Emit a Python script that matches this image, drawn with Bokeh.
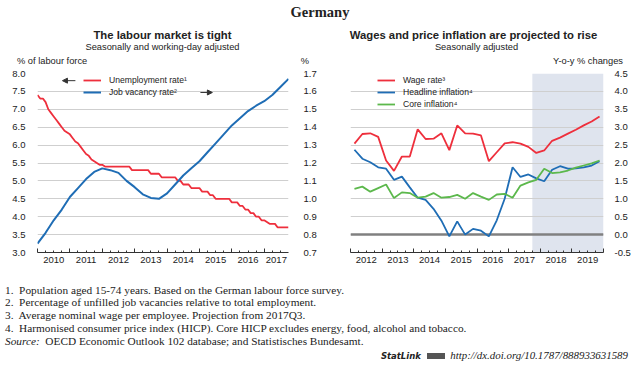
import pandas as pd
from bokeh.plotting import figure
from bokeh.models import (Range1d, LinearAxis, FixedTicker, Legend, LegendItem,
                          BoxAnnotation, Span, Arrow, NormalHead, Div, NumeralTickFormatter,
                          CustomJSTickFormatter)
from bokeh.layouts import column, row
from bokeh.embed import file_html
from bokeh.resources import INLINE

# ---------------- data: left panel ----------------
unemp_months = pd.date_range("2010-01-01", periods=94, freq="MS")
unemployment_rate = [
    7.4, 7.3, 7.3, 7.2, 7.0, 6.9, 6.8, 6.7, 6.6, 6.5, 6.4, 6.35,       # 2010
    6.3, 6.2, 6.1, 6.05, 5.95, 5.85, 5.75, 5.7, 5.6, 5.55, 5.5, 5.45,  # 2011
    5.45, 5.4, 5.4, 5.4, 5.4, 5.4, 5.4, 5.4, 5.4, 5.4, 5.4, 5.3,       # 2012
    5.3, 5.3, 5.3, 5.3, 5.3, 5.3, 5.2, 5.2, 5.2, 5.2, 5.1, 5.1,        # 2013
    5.1, 5.1, 5.1, 5.1, 5.0, 5.0, 4.9, 4.9, 4.9, 4.8, 4.8, 4.8,        # 2014
    4.8, 4.7, 4.7, 4.7, 4.6, 4.6, 4.5, 4.5, 4.5, 4.5, 4.5, 4.5,        # 2015
    4.4, 4.4, 4.4, 4.3, 4.3, 4.2, 4.2, 4.1, 4.1, 4.0, 4.0, 3.9,        # 2016
    3.9, 3.85, 3.8, 3.8, 3.8, 3.7, 3.7, 3.7, 3.7, 3.7,                 # 2017
]
vac_quarters = pd.date_range("2010-01-01", periods=32, freq="QS")
job_vacancy_rate = [
    0.75, 0.81, 0.88, 0.94, 1.01, 1.06, 1.11, 1.15, 1.17, 1.16, 1.145,
    1.10, 1.065, 1.025, 1.005, 1.0, 1.03, 1.08, 1.13, 1.17, 1.21, 1.26,
    1.31, 1.36, 1.41, 1.45, 1.49, 1.52, 1.545, 1.58, 1.625, 1.67,
]
left_years = [2010, 2011, 2012, 2013, 2014, 2015, 2016, 2017]
left_ticks = [3.0, 3.5, 4.0, 4.5, 5.0, 5.5, 6.0, 6.5, 7.0, 7.5, 8.0]
right_ticks_vac = [0.7, 0.8, 0.9, 1.0, 1.1, 1.2, 1.3, 1.4, 1.5, 1.6, 1.7]
left_end = 2017.75

# ---------------- data: right panel ----------------
quarters = pd.period_range("2012Q1", "2019Q4", freq="Q")
wage_rate = [2.54, 2.81, 2.83, 2.73, 2.07, 1.78, 2.18, 2.18, 2.94, 2.67, 2.68,
             2.83, 2.36, 3.05, 2.83, 2.82, 2.77, 2.05, 2.30, 2.55, 2.58, 2.54,
             2.45, 2.28, 2.35, 2.62, 2.71, 2.82, 2.93, 3.05, 3.16, 3.30]
headline_inflation = [2.37, 2.12, 2.02, 1.88, 1.84, 1.53, 1.62, 1.32, 1.03, 0.97,
                      0.72, 0.39, -0.05, 0.37, 0.0, 0.16, 0.11, -0.05, 0.40, 1.0,
                      1.88, 1.61, 1.68, 1.57, 1.49, 1.81, 1.91, 1.84, 1.85, 1.88,
                      1.93, 2.05]
core_inflation = [1.28, 1.34, 1.20, 1.30, 1.40, 1.02, 1.18, 1.16, 1.03, 1.06, 1.16,
                  1.03, 1.05, 1.11, 1.0, 1.16, 1.06, 0.97, 1.12, 1.14, 1.03, 1.37,
                  1.46, 1.53, 1.84, 1.72, 1.74, 1.79, 1.87, 1.93, 1.99, 2.07]
right_years = [2012, 2013, 2014, 2015, 2016, 2017, 2018, 2019]
right_ticks = [-0.5, 0.0, 0.5, 1.0, 1.5, 2.0, 2.5, 3.0, 3.5, 4.0, 4.5]
projection_start = "2017Q4"

RED = "#ee2f3c"
BLUE = "#1f6db5"
GREEN = "#5cb84c"
GRID = "#cfcfcf"
TXT = "#222222"
FONT = "Liberation Sans"

def month_x(d):
    return [t.year + (t.month - 1) / 12 for t in d]

def quarter_mid_x(q):
    return [t.year + (t.quarter - 0.5) / 4 for t in q]

def quarter_start(qs):
    t = pd.Period(qs, freq="Q")
    return t.year + (t.quarter - 1) / 4

def style_axes(p):
    p.outline_line_color = None
    p.xgrid.visible = False
    p.ygrid.grid_line_color = GRID
    p.ygrid.grid_line_width = 1.2
    p.background_fill_color = "white"
    p.border_fill_color = "white"

def style_y(ax):
    ax.axis_line_color = None
    ax.major_tick_line_color = None
    ax.minor_tick_line_color = None
    ax.major_label_text_font = FONT
    ax.major_label_text_font_size = "9.5px"
    ax.major_label_text_color = TXT
    ax.major_label_standoff = 6
    ax.formatter = NumeralTickFormatter(format="0.0")

def add_x_axes(p, years, end):
    bounds = [y for y in years] + [years[-1] + 1]
    bounds = [b for b in bounds if b <= end]
    qticks = [y + q / 4 for y in years for q in range(1, 4) if y + q / 4 < end]
    ax = p.xaxis[0]
    ax.ticker = FixedTicker(ticks=bounds, minor_ticks=qticks)
    ax.formatter = CustomJSTickFormatter(code="return '';")
    ax.major_label_text_font_size = "0px"
    ax.major_label_standoff = 0
    ax.major_tick_in = 4
    ax.major_tick_out = 0
    ax.minor_tick_in = 2
    ax.minor_tick_out = 0
    ax.axis_line_color = "#333333"
    ax.major_tick_line_color = "#333333"
    ax.minor_tick_line_color = "#333333"
    mids = [min(y + 0.5, (y + end) / 2) for y in years]
    lab = LinearAxis(ticker=FixedTicker(ticks=mids, minor_ticks=[]),
                     formatter=CustomJSTickFormatter(code="return String(Math.floor(tick));"))
    lab.axis_line_color = None
    lab.major_tick_line_color = None
    lab.minor_tick_line_color = None
    lab.major_label_standoff = -2
    lab.major_label_text_font = FONT
    lab.major_label_text_font_size = "9.5px"
    lab.major_label_text_color = TXT
    p.add_layout(lab, "below")

# ---------------- left panel ----------------
p1 = figure(width=320, height=201, x_range=Range1d(2010, left_end),
            y_range=Range1d(3.0, 8.0), output_backend="svg", toolbar_location=None,
            min_border_left=37, min_border_right=32, min_border_top=6, min_border_bottom=16,
            title=None)
style_axes(p1)
p1.extra_y_ranges = {"vac": Range1d(0.7, 1.7)}
p1.yaxis[0].ticker = FixedTicker(ticks=left_ticks)
style_y(p1.yaxis[0])
p1.ygrid.ticker = FixedTicker(ticks=left_ticks)
rax = LinearAxis(y_range_name="vac", ticker=FixedTicker(ticks=right_ticks_vac))
style_y(rax)
rax.major_label_standoff = 9
p1.add_layout(rax, "right")
add_x_axes(p1, left_years, left_end)

r_un = p1.line(month_x(unemp_months), unemployment_rate, line_color=RED, line_width=1.8)
r_jv = p1.line(month_x(vac_quarters), job_vacancy_rate,
               line_color=BLUE, line_width=2, y_range_name="vac")

leg1 = Legend(items=[LegendItem(label="Unemployment rate\u00b9", renderers=[r_un]),
                     LegendItem(label="Job vacancy rate\u00b2", renderers=[r_jv])],
              location=(46, 154))
p1.add_layout(leg1)

p1.add_layout(Arrow(x_start=2011.17, y_start=7.80, x_end=2010.77, y_end=7.80,
                    line_color="#333333", line_width=1,
                    end=NormalHead(size=5, fill_color="#333333", line_color="#333333")))
p1.add_layout(Arrow(x_start=2015.03, y_start=7.47, x_end=2015.4, y_end=7.47,
                    line_color="#333333", line_width=1,
                    end=NormalHead(size=5, fill_color="#333333", line_color="#333333")))

# ---------------- right panel ----------------
p2 = figure(width=320, height=201, x_range=Range1d(2012, 2020),
            y_range=Range1d(-0.5, 4.5), output_backend="svg", toolbar_location=None,
            y_axis_location="right",
            min_border_left=30, min_border_right=37, min_border_top=6, min_border_bottom=16,
            title=None)
style_axes(p2)
p2.yaxis[0].ticker = FixedTicker(ticks=right_ticks)
p2.ygrid.ticker = FixedTicker(ticks=right_ticks)
style_y(p2.yaxis[0])
p2.yaxis[0].major_label_standoff = 5
add_x_axes(p2, right_years, 2020)

p2.add_layout(BoxAnnotation(left=quarter_start(projection_start), fill_color="#dfe4ee",
                            fill_alpha=1, line_color=None, level="image"))
p2.add_layout(Span(location=0, dimension="width", line_color="#808080", line_width=2.5,
                   level="underlay"))
qx = quarter_mid_x(quarters)
r_w = p2.line(qx, wage_rate, line_color=RED, line_width=1.8)
r_h = p2.line(qx, headline_inflation, line_color=BLUE, line_width=1.8)
r_c = p2.line(qx, core_inflation, line_color=GREEN, line_width=1.8)
leg2 = Legend(items=[LegendItem(label="Wage rate\u00b3", renderers=[r_w]),
                     LegendItem(label="Headline inflation\u2074", renderers=[r_h]),
                     LegendItem(label="Core inflation\u2074", renderers=[r_c])],
              location=(27, 142))
p2.add_layout(leg2)

for lg in (leg1, leg2):
    lg.border_line_color = None
    lg.background_fill_alpha = 0
    lg.padding = 0
    lg.margin = 0
    lg.spacing = 0
    lg.glyph_width = 18
    lg.glyph_height = 10
    lg.label_height = 12
    lg.label_standoff = 8
    lg.label_text_font = FONT
    lg.label_text_font_size = "8.6px"
    lg.label_text_color = TXT

# ---------------- text blocks ----------------
head = Div(text='<div style="padding-top:2px;font-family:\'Liberation Serif\';'
                'font-weight:bold;font-size:14.5px;text-align:center;width:640px;'
                'line-height:20px;color:#222">Germany</div>',
           width=640, height=20, margin=0)

def header_html(title, t_left, t_width, subtitle, s_left, s_width, unit_left, unit_right):
    base = "position:absolute;white-space:nowrap;"
    return (
        '<div style="position:relative;width:320px;height:47px;font-family:\'Liberation Sans\';color:#222">'
        f'<div style="{base}left:{t_left}px;width:{t_width}px;top:8.5px;text-align:center;'
        f'font-weight:bold;font-size:11.3px;line-height:13px">{title}</div>'
        f'<div style="{base}left:{s_left}px;width:{s_width}px;top:21.5px;text-align:center;'
        f'font-size:9.3px;line-height:11px">{subtitle}</div>'
        + (f'<div style="{base}left:{unit_left[0]}px;top:35.5px;font-size:9.3px;line-height:11px">{unit_left[1]}</div>'
           if unit_left else '')
        + f'<div style="{base}right:{unit_right[0]}px;top:35.5px;font-size:9.3px;line-height:11px">{unit_right[1]}</div>'
        '</div>'
    )

hdr1 = Div(text=header_html("The labour market is tight", 37, 251,
                            "Seasonally and working-day adjusted", 37, 251,
                            (17, "% of labour force"), (11, "%")),
           width=320, height=47, margin=0)
hdr2 = Div(text=header_html("Wages and price inflation are projected to rise", 27, 253,
                            "Seasonally adjusted", 30, 253,
                            None, (17, "Y-o-y % changes")),
           width=320, height=47, margin=0)

notes_html = (
    '<div style="font-family:\'Liberation Serif\';font-size:11.3px;line-height:12.8px;'
    'color:#222;width:635px;padding-top:15.6px;padding-left:5px;white-space:nowrap">'
    '1.&nbsp; Population aged 15-74 years. Based on the German labour force survey.<br>'
    '2.&nbsp; Percentage of unfilled job vacancies relative to total employment.<br>'
    '3.&nbsp; Average nominal wage per employee. Projection from 2017Q3.<br>'
    '4.&nbsp; Harmonised consumer price index (HICP). Core HICP excludes energy, food, alcohol and tobacco.<br>'
    '<i>Source:</i>&nbsp; OECD Economic Outlook 102 database; and Statistisches Bundesamt.'
    '<div style="text-align:right;line-height:11px;margin-top:2px;padding-right:7px">'
    '<span style="font-family:\'DejaVu Sans\';font-weight:bold;font-style:italic;font-size:8.5px">StatLink</span>'
    '&nbsp;&nbsp;<span style="display:inline-block;width:18px;height:6px;background:#555;vertical-align:middle"></span>&nbsp;&nbsp;'
    '<i style="font-size:10.9px">http://dx.doi.org/10.1787/888933631589</i></div></div>'
)
notes = Div(text=notes_html, width=640, height=97, margin=0)

layout = column(head, row(hdr1, hdr2), row(p1, p2), notes)
open("out.html", "w").write(file_html(layout, INLINE))
